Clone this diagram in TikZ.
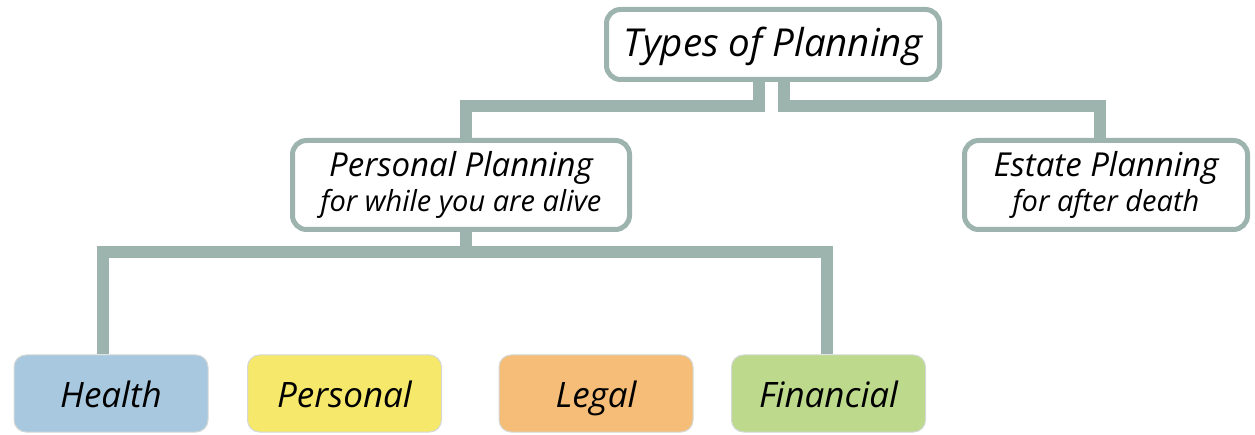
\documentclass[tikz,border=0pt]{standalone}
\usepackage{fontspec}
\setmainfont{Open Sans}
\usetikzlibrary{backgrounds}
\definecolor{frame}{HTML}{9DB3AE}
\definecolor{healthc}{HTML}{A7C8DF}
\definecolor{personalc}{HTML}{F5E86A}
\definecolor{legalc}{HTML}{F5BD77}
\definecolor{financec}{HTML}{BCD98C}
\definecolor{edge}{HTML}{D4D8D6}
\tikzset{
  headbox/.style={draw=frame, line width=5pt, fill=white, rounded corners=14pt,
    inner sep=0pt, align=center, font=\itshape},
  leafbox/.style={draw=edge, line width=1pt, rounded corners=12pt,
    minimum width=194pt, minimum height=77pt, inner sep=0pt,
    text height=31pt, text depth=4pt,
    font=\fontsize{35}{40}\selectfont\itshape},
  conn/.style={draw=frame, line width=12pt, line join=miter, line cap=butt},
}
\begin{document}
\begin{tikzpicture}[x=1pt,y=-1pt]
\useasboundingbox (0,0) rectangle (1255,435);

% heading boxes
\node[headbox, minimum width=333pt, minimum height=70pt] (top) at (773,44.5) {};
\node[font=\itshape\fontsize{38.5}{44}\selectfont] (toptxt) at ([yshift=-2pt]top.center) {Types of Planning};
\node[headbox, minimum width=337pt, minimum height=89pt] (pp) at (461,185)
  {\fontsize{33}{38}\selectfont Personal Planning\\[3pt]\fontsize{29}{34}\selectfont for while you are alive};
\node[headbox, minimum width=283pt, minimum height=89pt] (ep) at (1106,185)
  {\fontsize{33}{38}\selectfont Estate Planning\\[3pt]\fontsize{29}{34}\selectfont for after death};

% category boxes
\node[leafbox, fill=healthc]   (hl) at (111,393.5) {Health};
\node[leafbox, fill=personalc] (ps) at (344.5,393.5) {Personal};
\node[leafbox, fill=legalc]    (lg) at (596,393.5) {Legal};
\node[leafbox, fill=financec]  (fn) at (828.5,393.5) {Financial};

% connector anchor points
\coordinate (jl) at (759,106);
\coordinate (jr) at (784,106);
\coordinate (bar) at (0,252);
\coordinate (ppin) at ([xshift=5pt]pp.north);
\coordinate (epin) at ([xshift=-6pt]ep.north);
\coordinate (ppout) at ([xshift=5pt]pp.south);
\coordinate (hin) at ([xshift=-8pt]hl.north);
\coordinate (fin) at ([xshift=-2pt]fn.north);

\begin{scope}[on background layer]
  \draw[conn] (top.south -| jl) -- (jl) -| (ppin);
  \draw[conn] (top.south -| jr) -- (jr) -| (epin);
  \draw[conn] (ppout) -- (ppout |- bar);
  \draw[conn] (hin) -- (hin |- bar) -- (fin |- bar) -- (fin);
\end{scope}
\end{tikzpicture}
\end{document}
